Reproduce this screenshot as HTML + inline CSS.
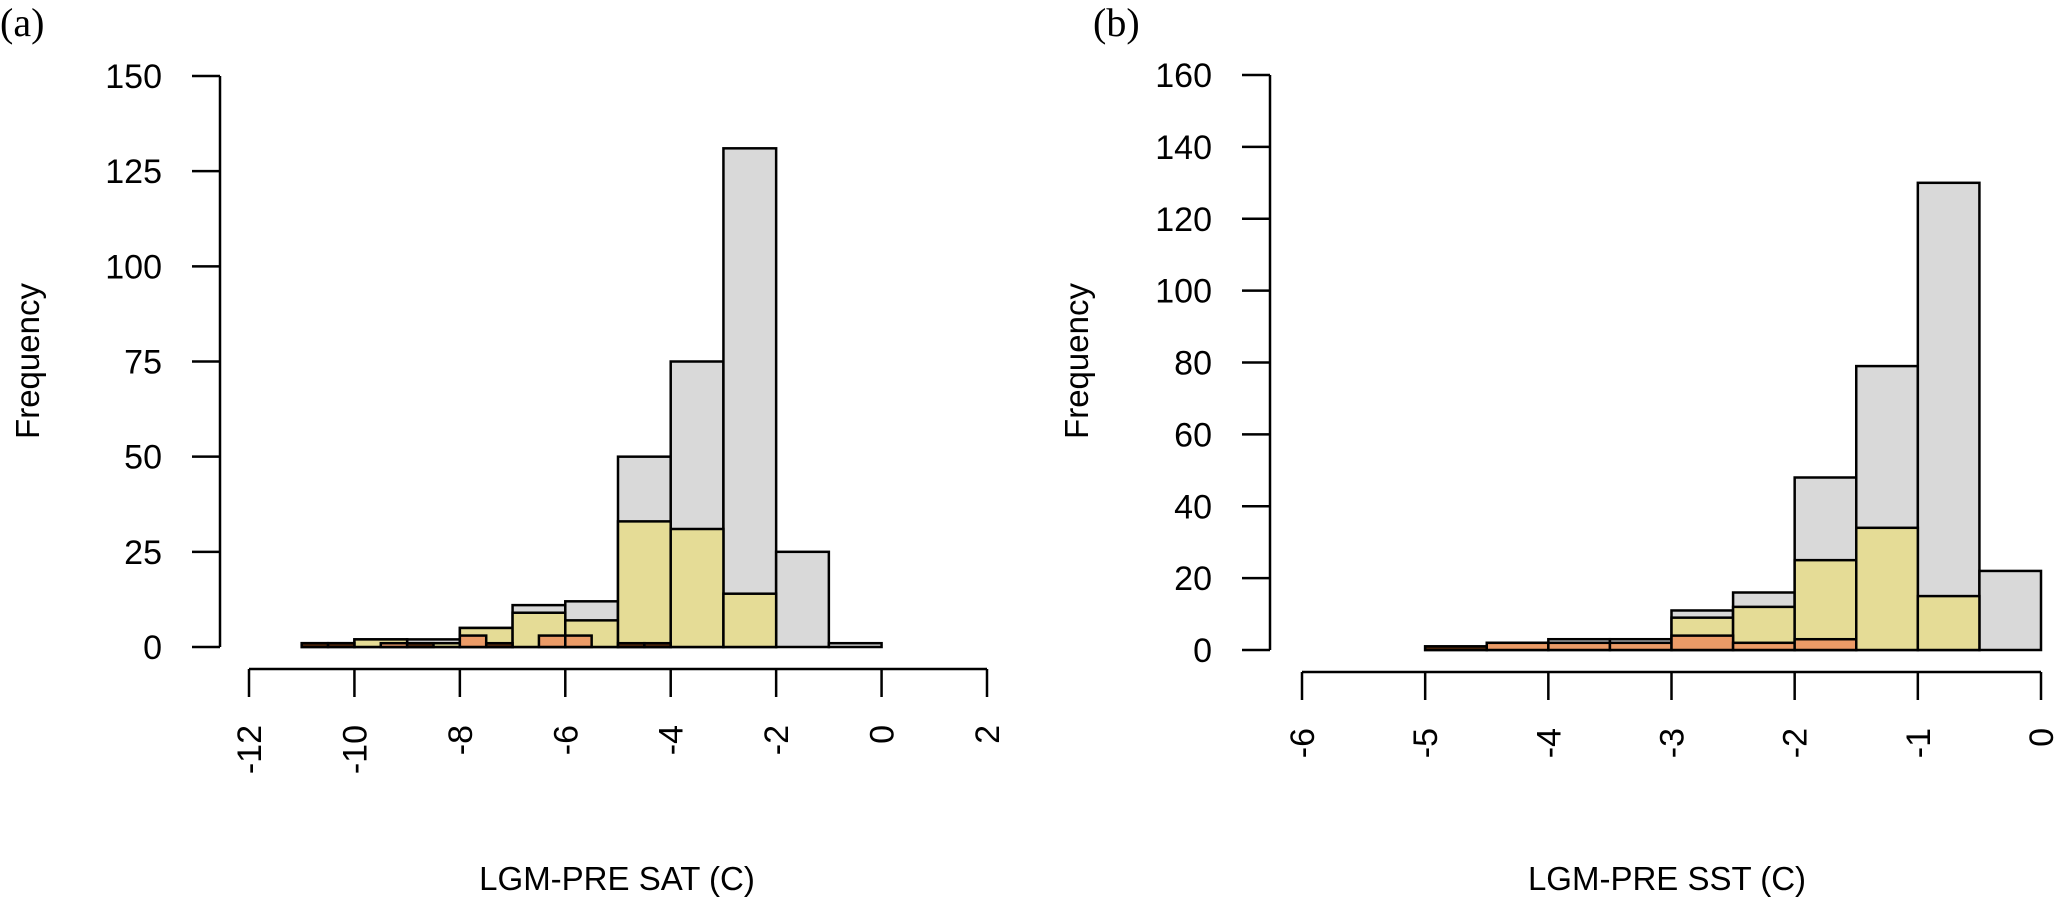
<!DOCTYPE html>
<html><head><meta charset="utf-8"><style>
html,body{margin:0;padding:0;background:#fff;}
svg text{font-family:"Liberation Sans",sans-serif;fill:#000;}
</style></head><body>
<svg id="c" width="2067" height="901" viewBox="0 0 2067 901" xmlns="http://www.w3.org/2000/svg"></svg>
<script>
// Panel A data (LGM-PRE SAT)
const aGrayStarts = [-11,-10,-9,-8,-7,-6,-5,-4,-3,-2,-1];
const aGrayVals   = [1,2,2,5,11,12,50,75,131,25,1];
const aYelStarts  = [-10,-9,-8,-7,-6,-5,-4,-3];
const aYelVals    = [2,1,5,9,7,33,31,14];
const aOrgStarts  = [-9.5,-8,-6.5,-6];
const aOrgVals    = [1,3,3,3];
const aDarkStarts = [-11,-10.5,-9,-7.5,-5,-4.5];
const aDarkVals   = [1,1,1,1,1,1];
const aYTicks = [0,25,50,75,100,125,150];
const aXTicks = [-12,-10,-8,-6,-4,-2,0,2];
// Panel B data (LGM-PRE SST)
const bGrayStarts = [-5,-4.5,-4,-3.5,-3,-2.5,-2,-1.5,-1,-0.5];
const bGrayVals   = [1,2,3,3,11,16,48,79,130,22];
const bYelStarts  = [-3,-2.5,-2,-1.5,-1];
const bYelVals    = [9,12,25,34,15];
const bOrgStarts  = [-4.5,-4,-3.5,-3,-2.5,-2];
const bOrgVals    = [2,2,2,4,2,3];
const bDarkStarts = [-5];
const bDarkVals   = [1];
const bYTicks = [0,20,40,60,80,100,120,140,160];
const bXTicks = [-6,-5,-4,-3,-2,-1,0];

const svg=document.getElementById('c');
const NS='http://www.w3.org/2000/svg';
function mk(tag,attrs,parent){const e=document.createElementNS(NS,tag);for(const k in attrs)e.setAttribute(k,attrs[k]);(parent||svg).appendChild(e);return e;}

function panel(cfg){
  const g=mk('g',{});
  
  
  const sx=v=>cfg.x0+(v-cfg.xmin)*(cfg.x1-cfg.x0)/(cfg.xmax-cfg.xmin);
  const sy=v=>cfg.y0-(v)*(cfg.y0-cfg.y1)/(cfg.ymax);
  const series=[[cfg.gs,cfg.gv,cfg.gw,'#d9d9d9','gray'],[cfg.ys,cfg.yv,cfg.yw,'#e5dc96','yellow'],[cfg.os,cfg.ov,cfg.ow,'#eb9b67','orange'],[cfg.ds,cfg.dv,cfg.dw,'#5a2a0a','dark']];
  series.forEach(s=>{
    s[0].forEach((st,i)=>{
      const r=mk('rect',{x:sx(st),y:sy(s[1][i]),width:sx(st+s[2])-sx(st),height:sy(0)-sy(s[1][i]),fill:s[3],stroke:'#000','stroke-width':2.5},g);
      
      
    });
  });
  const ya=mk('g',{},g);
  
  
  mk('line',{x1:cfg.ax,x2:cfg.ax,y1:sy(cfg.yt[0]),y2:sy(cfg.yt[cfg.yt.length-1]),stroke:'#000','stroke-width':2.5},ya);
  cfg.yt.forEach(t=>{
    mk('line',{x1:cfg.ax-28,x2:cfg.ax,y1:sy(t),y2:sy(t),stroke:'#000','stroke-width':2.5},ya);
    const tx=mk('text',{x:cfg.ax-58,y:sy(t)+12,'text-anchor':'end','font-size':34},ya);
    tx.textContent=t;
    
    
  });
  const xa=mk('g',{},g);
  
  
  mk('line',{x1:sx(cfg.xt[0]),x2:sx(cfg.xt[cfg.xt.length-1]),y1:cfg.axy,y2:cfg.axy,stroke:'#000','stroke-width':2.5},xa);
  cfg.xt.forEach(t=>{
    mk('line',{x1:sx(t),x2:sx(t),y1:cfg.axy,y2:cfg.axy+28,stroke:'#000','stroke-width':2.5},xa);
    const tx=mk('text',{x:0,y:0,'text-anchor':'end','font-size':34,transform:`translate(${sx(t)+12},${cfg.axy+56}) rotate(-90)`},xa);
    tx.textContent=t;
    
    
  });
  const xt=mk('text',{x:cfg.xtx,y:890,'text-anchor':'middle','font-size':33},g);
  xt.textContent=cfg.xtitle;
  
  
  const yt=mk('text',{x:0,y:0,'text-anchor':'middle','font-size':33,transform:`translate(${cfg.ytx},361) rotate(-90)`},g);
  yt.textContent='Frequency';
  
  
  const lb=mk('text',{x:cfg.lx,y:36,'font-size':40,style:'font-family:"Liberation Serif",serif'},g);
  lb.textContent=cfg.label;
  
  
}
panel({name:'panel-a',xmin:-12,xmax:2,x0:249,x1:987,y0:647,y1:76,ymax:150,ax:220,axy:669,
  gs:aGrayStarts,gv:aGrayVals,gw:1,ys:aYelStarts,yv:aYelVals,yw:1,os:aOrgStarts,ov:aOrgVals,ow:0.5,ds:aDarkStarts,dv:aDarkVals,dw:0.5,
  yt:aYTicks,xt:aXTicks,xtitle:'LGM-PRE SAT (C)',xtx:617,ytx:39,lx:0,label:'(a)'});
panel({name:'panel-b',xmin:-6,xmax:0,x0:1302,x1:2041,y0:650,y1:75,ymax:160,ax:1270,axy:672,
  gs:bGrayStarts,gv:bGrayVals,gw:0.5,ys:bYelStarts,yv:bYelVals,yw:0.5,os:bOrgStarts,ov:bOrgVals,ow:0.5,ds:bDarkStarts,dv:bDarkVals,dw:0.5,
  yt:bYTicks,xt:bXTicks,xtitle:'LGM-PRE SST (C)',xtx:1667,ytx:1088,lx:1093,label:'(b)'});
</script>
</body></html>
